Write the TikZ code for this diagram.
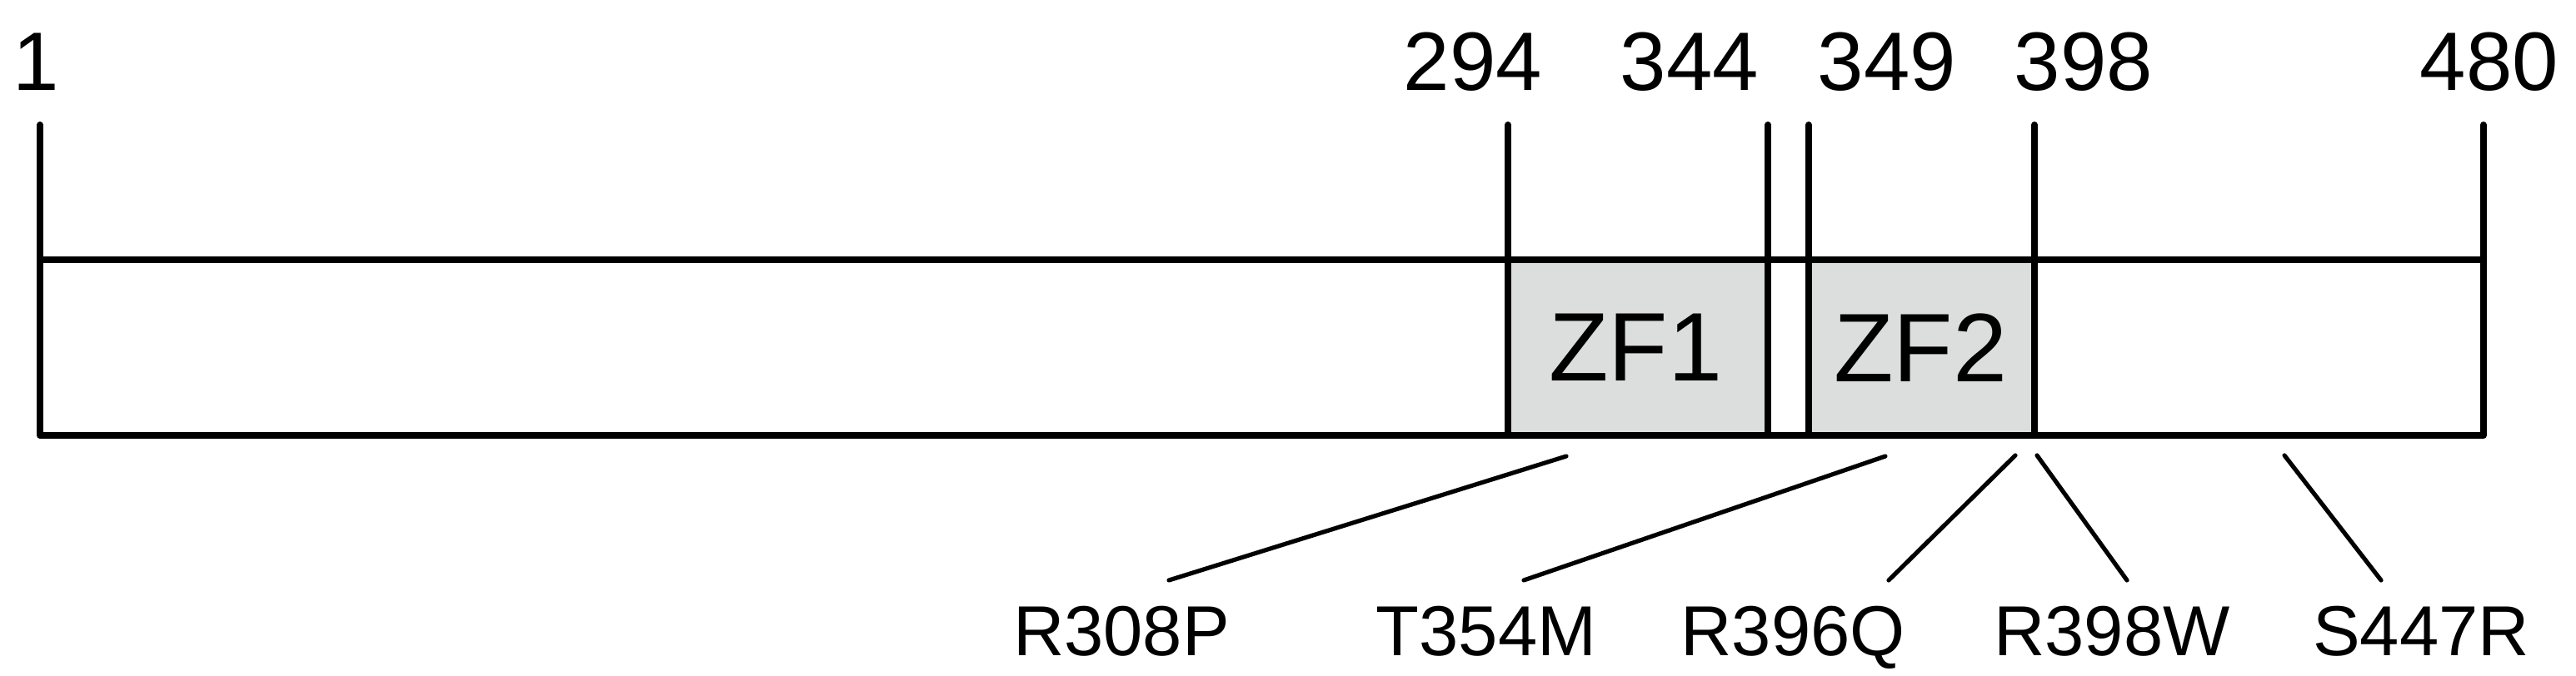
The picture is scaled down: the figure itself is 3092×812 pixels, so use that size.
\documentclass[tikz,border=0pt]{standalone}
\usepackage{fontspec}
\setmainfont{Liberation Sans}
\definecolor{zfgray}{RGB}{220,221,221}
\begin{document}
\begin{tikzpicture}[x=0.25pt,y=-0.25pt,
  boxline/.style={line width=2pt,line cap=round,line join=round},
  mutline/.style={line width=1.3pt,line cap=round},
  numlabel/.style={inner sep=0pt,anchor=base,font=\fontsize{24.9pt}{28pt}\selectfont},
  mutlabel/.style={inner sep=0pt,anchor=base,font=\fontsize{21.25pt}{24pt}\selectfont},
  zflabel/.style={inner sep=0pt,anchor=center,font=\fontsize{29.25pt}{32pt}\selectfont}]
\useasboundingbox (0,0) rectangle (3092,812);
% coordinates
\coordinate (L) at (48,150);
\coordinate (LB) at (48,523);
\coordinate (R) at (2981,150);
\coordinate (RB) at (2981,523);
\coordinate (LT) at (48,312.5);
\coordinate (RT) at (2981,312.5);
% domain fills
\fill[zfgray] (1810,312.5) rectangle (2122,523);
\fill[zfgray] (2171,312.5) rectangle (2442,523);
% protein outline
\draw[boxline] (L) -- (LB) -- (RB) -- (R);
\draw[boxline] (LT) -- (RT);
\foreach \x/\n in {1810/a,2122/b,2171/c,2442/d}{
  \coordinate (t\n) at (\x,150);
  \coordinate (b\n) at (\x,523);
  \draw[boxline] (t\n) -- (b\n);
}
% position numbers
\node[numlabel] (n1) at (43,109) {1};
\node[numlabel] (n294) at (1768,109) {294};
\node[numlabel] (n344) at (2028,109) {344};
\node[numlabel] (n349) at (2265,109) {349};
\node[numlabel] (n398) at (2501,109) {398};
\node[numlabel] (n480) at (2988,109) {480};
% domain labels
\node[zflabel] (zf1) at (1963,417.5) {ZF1};
\node[zflabel] (zf2) at (2305,417.5) {ZF2};
% mutation labels
\node[mutlabel] (m1) at (1346,787) {R308P};
\node[mutlabel] (m2) at (1784,787) {T354M};
\node[mutlabel] (m3) at (2152,787) {R396Q};
\node[mutlabel] (m4) at (2535,787) {R398W};
\node[mutlabel] (m5) at (2906,787) {S447R};
% mutation connectors
\coordinate (p1a) at (1880,548); \coordinate (p1b) at (1403,697);
\coordinate (p2a) at (2263,548); \coordinate (p2b) at (1829,697);
\coordinate (p3a) at (2419,547); \coordinate (p3b) at (2267,697);
\coordinate (p4a) at (2445,547); \coordinate (p4b) at (2553,697);
\coordinate (p5a) at (2742,547); \coordinate (p5b) at (2858,697);
\foreach \i in {1,...,5}{\draw[mutline] (p\i a) -- (p\i b);}
\end{tikzpicture}
\end{document}
